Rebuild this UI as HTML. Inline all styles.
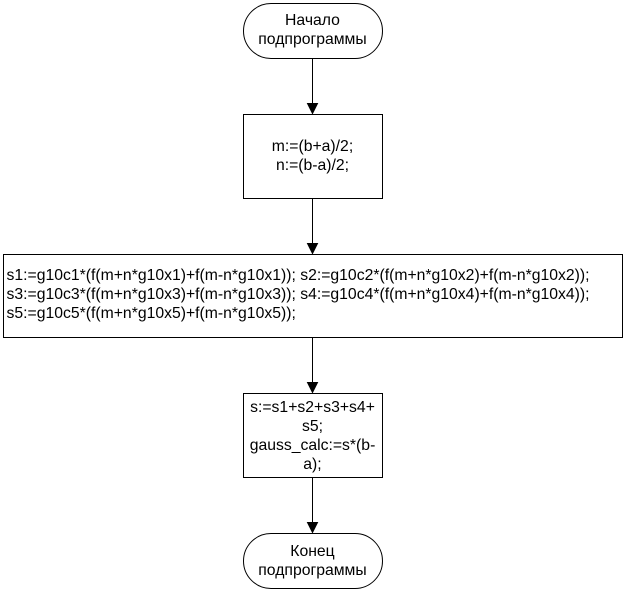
<!DOCTYPE html>
<html>
<head>
<meta charset="utf-8">
<style>
html,body{margin:0;padding:0;background:#fff;width:625px;height:591px;overflow:hidden}
svg{display:block}
text{font-family:"Liberation Sans",sans-serif;font-size:15.75px;fill:#000}
.c{text-anchor:middle}
</style>
</head>
<body>
<svg width="625" height="591" viewBox="0 0 625 591" xmlns="http://www.w3.org/2000/svg">
<g fill="#fff" stroke="#000" stroke-width="1">
<rect x="243.5" y="3.5" width="139" height="55" rx="27.5" ry="27.5"/>
<rect x="243.5" y="114.5" width="139" height="84"/>
<rect x="3.5" y="254.5" width="619" height="83"/>
<rect x="243.5" y="393.5" width="139" height="84"/>
<rect x="243.5" y="533.5" width="139" height="55" rx="27.5" ry="27.5"/>
</g>
<g stroke="#000" stroke-width="1" fill="none">
<path d="M312.5 58.5V104"/>
<path d="M312.5 198.5V244"/>
<path d="M312.5 337.5V383"/>
<path d="M312.5 477.5V523"/>
</g>
<g fill="#000" stroke="#000" stroke-width="1">
<path d="M307.5 103.5h10l-5 10z"/>
<path d="M307.5 243.5h10l-5 10z"/>
<path d="M307.5 382.5h10l-5 10z"/>
<path d="M307.5 522.5h10l-5 10z"/>
</g>
<text class="c" x="312.5" y="25">Начало</text>
<text class="c" x="312.5" y="44">подпрограммы</text>
<text class="c" x="312.5" y="151">m:=(b+a)/2;</text>
<text class="c" x="312.5" y="170">n:=(b-a)/2;</text>
<text x="6.5" y="280">s1:=g10c1*(f(m+n*g10x1)+f(m-n*g10x1)); s2:=g10c2*(f(m+n*g10x2)+f(m-n*g10x2));</text>
<text x="6.5" y="299">s3:=g10c3*(f(m+n*g10x3)+f(m-n*g10x3)); s4:=g10c4*(f(m+n*g10x4)+f(m-n*g10x4));</text>
<text x="6.5" y="318">s5:=g10c5*(f(m+n*g10x5)+f(m-n*g10x5));</text>
<text class="c" x="312.5" y="412">s:=s1+s2+s3+s4+</text>
<text class="c" x="312.5" y="431">s5;</text>
<text class="c" x="312.5" y="450">gauss_calc:=s*(b-</text>
<text class="c" x="312.5" y="469">a);</text>
<text class="c" x="312.5" y="556">Конец</text>
<text class="c" x="312.5" y="575">подпрограммы</text>
</svg>
</body>
</html>
